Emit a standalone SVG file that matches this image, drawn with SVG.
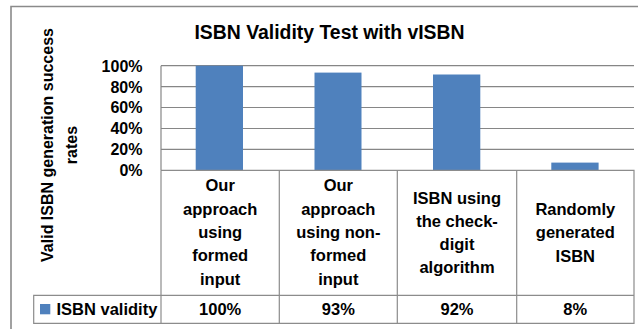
<svg xmlns="http://www.w3.org/2000/svg" width="638" height="329" viewBox="0 0 638 329">
  <style>
    text { font-family: "Liberation Sans", Arial, sans-serif; font-weight: bold; fill: #000; }
    .title { font-size: 19.4px; }
    .axis { font-size: 16px; }
    .tick { font-size: 16px; text-anchor: end; }
    .cat { font-size: 16.5px; text-anchor: middle; }
    .val { font-size: 16.5px; text-anchor: middle; }
    .grid { stroke: #868686; stroke-width: 1.2; }
    .cell { stroke: #8c8c8c; stroke-width: 1.2; fill: none; }
    .bar { fill: #4F81BD; }
    .frame { stroke: #8a8a8a; stroke-width: 1.6; fill: none; }
  </style>

  <rect width="638" height="329" fill="#fff"/>

  <!-- chart frame -->
  <path class="frame" d="M11,329 V6.5 H638"/>

  <!-- title -->
  <text class="title" x="329.5" y="39" text-anchor="middle">ISBN Validity Test with vISBN</text>

  <!-- y axis title -->
  <g id="y-axis-title">
    <text class="axis" transform="translate(53,145) rotate(-90)" text-anchor="middle">Valid ISBN generation success</text>
    <text class="axis" transform="translate(77,145) rotate(-90)" text-anchor="middle">rates</text>
  </g>

  <!-- tick labels -->
  <g id="y-ticks">
    <text class="tick" x="142.5" y="71.5">100%</text>
    <text class="tick" x="142.5" y="92.5">80%</text>
    <text class="tick" x="142.5" y="113.4">60%</text>
    <text class="tick" x="142.5" y="134.4">40%</text>
    <text class="tick" x="142.5" y="155.3">20%</text>
    <text class="tick" x="142.5" y="176.2">0%</text>
  </g>

  <!-- gridlines -->
  <g id="gridlines">
    <line class="grid" x1="161" y1="65.7" x2="634" y2="65.7"/>
    <line class="grid" x1="161" y1="86.6" x2="634" y2="86.6"/>
    <line class="grid" x1="161" y1="107.5" x2="634" y2="107.5"/>
    <line class="grid" x1="161" y1="128.5" x2="634" y2="128.5"/>
    <line class="grid" x1="161" y1="149.4" x2="634" y2="149.4"/>
    <line class="grid" x1="161" y1="65.7" x2="161" y2="170.3"/>
  </g>

  <!-- bars -->
  <g id="bars">
    <rect class="bar" x="195.7" y="65.7" width="47.3" height="104.6"/>
    <rect class="bar" x="314.5" y="72.6" width="47" height="97.7"/>
    <rect class="bar" x="433" y="74.5" width="47.3" height="95.8"/>
    <rect class="bar" x="551.3" y="162.6" width="47.3" height="7.7"/>
  </g>

  <!-- data table -->
  <g id="table">
    <path class="cell" d="M161,170.3 H634 V323.3 H33.7 V295.3 H634"/>
    <line class="cell" x1="161" y1="170.3" x2="161" y2="323.3"/>
    <line class="cell" x1="279.3" y1="170.3" x2="279.3" y2="323.3"/>
    <line class="cell" x1="397.3" y1="170.3" x2="397.3" y2="323.3"/>
    <line class="cell" x1="516.7" y1="170.3" x2="516.7" y2="323.3"/>
  </g>

  <!-- category labels -->
  <g id="cat-1">
    <text class="cat" x="220.2" y="191">Our</text>
    <text class="cat" x="220.2" y="214.5">approach</text>
    <text class="cat" x="220.2" y="238">using</text>
    <text class="cat" x="220.2" y="261.3">formed</text>
    <text class="cat" x="220.2" y="284.5">input</text>
  </g>
  <g id="cat-2">
    <text class="cat" x="338.3" y="191">Our</text>
    <text class="cat" x="338.3" y="214.5">approach</text>
    <text class="cat" x="338.3" y="238">using non-</text>
    <text class="cat" x="338.3" y="261.3">formed</text>
    <text class="cat" x="338.3" y="284.5">input</text>
  </g>
  <g id="cat-3">
    <text class="cat" x="457" y="203.5">ISBN using</text>
    <text class="cat" x="457" y="226.8">the check-</text>
    <text class="cat" x="457" y="250.1">digit</text>
    <text class="cat" x="457" y="273.4">algorithm</text>
  </g>
  <g id="cat-4">
    <text class="cat" x="575.3" y="215">Randomly</text>
    <text class="cat" x="575.3" y="238.3">generated</text>
    <text class="cat" x="575.3" y="261.6">ISBN</text>
  </g>

  <!-- legend key and values -->
  <g id="legend">
    <rect class="bar" x="40" y="304" width="10.3" height="10.3"/>
    <text x="56.5" y="315" font-size="16.5px">ISBN validity</text>
  </g>
  <g id="values">
    <text class="val" x="220.2" y="315">100%</text>
    <text class="val" x="338.3" y="315">93%</text>
    <text class="val" x="457" y="315">92%</text>
    <text class="val" x="575.3" y="315">8%</text>
  </g>
</svg>
